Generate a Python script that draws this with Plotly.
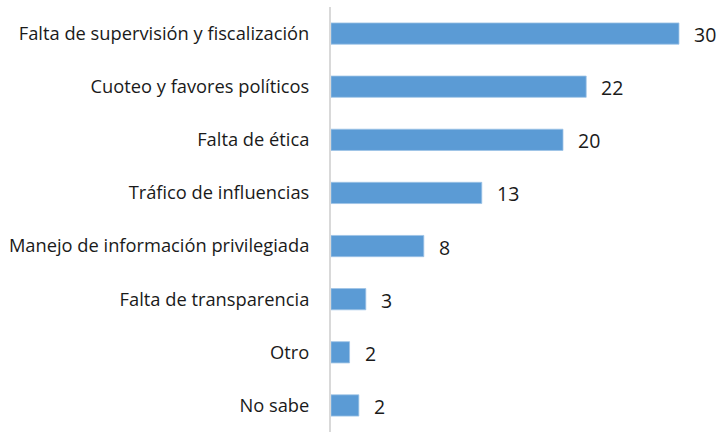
import plotly.graph_objects as go

categories = [
    "Falta de supervisión y fiscalización",
    "Cuoteo y favores políticos",
    "Falta de ética",
    "Tráfico de influencias",
    "Manejo de información privilegiada",
    "Falta de transparencia",
    "Otro",
    "No sabe",
]
values = [30, 22, 20, 13, 8, 3, 1.6, 2.4]
labels = ["30", "22", "20", "13", "8", "3", "2", "2"]

FONT = "Open Sans, Lato, sans-serif"

fig = go.Figure()
fig.add_trace(go.Bar(
    y=categories,
    x=values,
    orientation="h",
    marker=dict(color="#5B9BD5", line=dict(color="#9DC3E6", width=0.8)),
    width=0.4,
    hoverinfo="skip",
))

for c, v, t in zip(categories, values, labels):
    fig.add_annotation(x=v, y=c, text=t, showarrow=False, xanchor="left",
                       xshift=13, yshift=-1,
                       font=dict(family=FONT, size=19.5, color="#1a1a1a"))

fig.update_layout(
    width=719, height=432,
    margin=dict(l=331, r=0, t=7, b=0, autoexpand=False),
    paper_bgcolor="white", plot_bgcolor="white",
    showlegend=False,
    font=dict(family=FONT, size=18.3, color="#1a1a1a"),
)
fig.update_xaxes(range=[0, 33.45], visible=False, automargin=False)
fig.update_yaxes(
    categoryorder="array", categoryarray=categories[::-1],
    showline=True, linecolor="#d9d9d9", linewidth=2,
    ticks="", ticklabelstandoff=16, automargin=False,
    tickfont=dict(family=FONT, size=18.3, color="#1a1a1a"),
    showgrid=False, zeroline=False,
)

fig.write_html(
    "out.html",
    config={"displayModeBar": False},
    post_script=(
        "document.body.style.margin='0';"
        "document.body.style.overflow='hidden';"
        "document.documentElement.style.overflow='hidden';"
    ),
)
